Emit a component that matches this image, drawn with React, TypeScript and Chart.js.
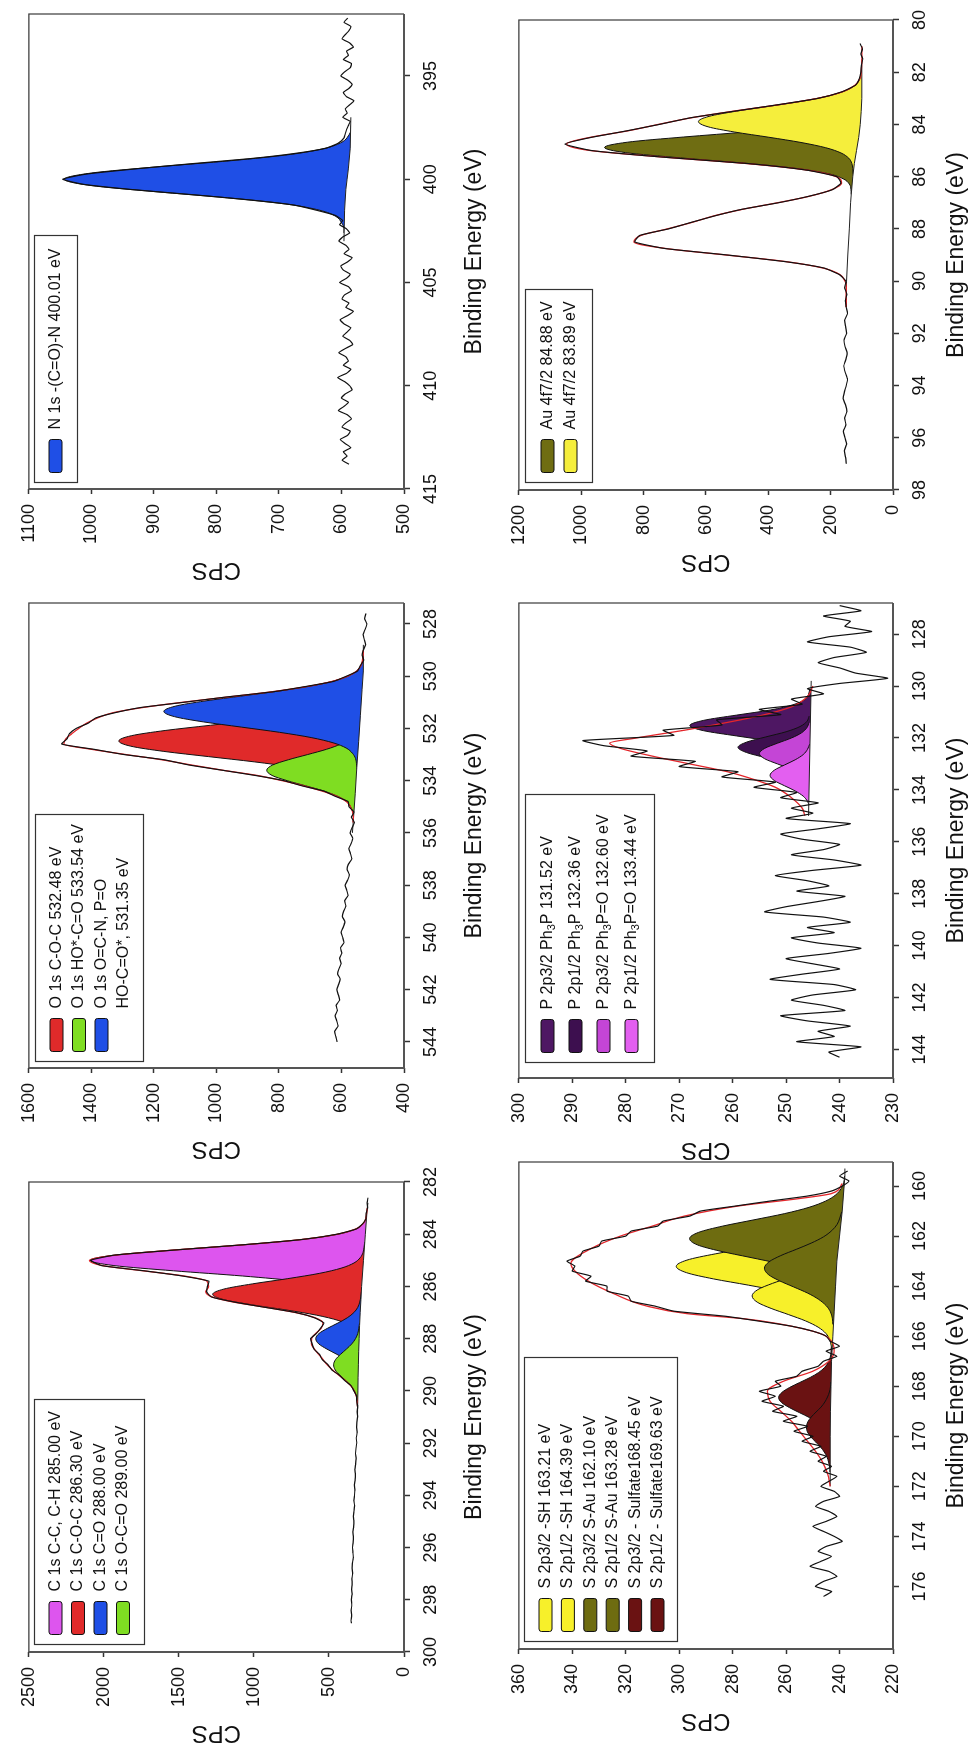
import React, { useEffect, useRef } from "react";
import { Chart, registerables } from "chart.js";

Chart.register(...registerables);

type P2 = [number, number];

// ======================= C 1s =======================
const c1sXTicks = [282, 284, 286, 288, 290, 292, 294, 296, 298, 300];
const c1sYTicks = [0, 500, 1000, 1500, 2000, 2500];
const c1sLabels = ["C 1s C-C, C-H 285.00 eV", "C 1s C-O-C 286.30 eV", "C 1s C=O 288.00 eV", "C 1s O-C=O 289.00 eV"];
const c1sColors = ["#dd55ee", "#e02a2a", "#1f4fe6", "#7fdd22"];
const c1sCC: P2[] = [[283.2,248],[283.4,255],[283.6,273],[283.8,322],[284.0,442],[284.2,680],[284.4,1060],[284.6,1526],[284.8,1928],[285.0,2090],[285.2,1933],[285.4,1536],[285.6,1075],[285.8,700],[286.0,467],[286.2,351],[286.4,306],[286.6,293],[286.8,290]];
const c1sCOC: P2[] = [[284.3,262],[284.5,266],[284.7,273],[284.9,292],[285.1,333],[285.3,419],[285.5,565],[285.7,774],[285.9,1009],[286.1,1200],[286.3,1275],[286.5,1204],[286.7,1017],[286.9,786],[287.1,582],[287.3,439],[287.5,358],[287.7,320],[287.9,305],[288.1,302],[288.3,301]];
const c1sCO: P2[] = [[286.2,284],[286.4,288],[286.6,295],[286.8,308],[287.0,334],[287.2,378],[287.4,440],[287.6,509],[287.8,566],[288.0,588],[288.2,568],[288.4,513],[288.6,447],[288.8,387],[289.0,346],[289.2,323],[289.4,313],[289.6,308],[289.8,307]];
const c1sOCO: P2[] = [[287.4,296],[287.6,301],[287.8,308],[288.0,323],[288.2,348],[288.4,384],[288.6,423],[288.8,456],[289.0,469],[289.2,458],[289.4,427],[289.6,389],[289.8,355],[290.0,331],[290.2,318],[290.4,313],[290.6,309]];
const c1sBase: P2[] = [[282.8,240],[283.0,245],[284.0,257.5],[285.0,270],[286.0,282.5],[286.5,287],[287.0,292],[287.5,296],[288.0,299],[288.5,302],[289.0,304],[289.5,306],[290.0,307],[290.6,309],[291.0,310]];
const c1sEnv: P2[] = [[283.0,245],[283.2,249],[283.4,255],[283.6,273],[283.8,322],[284.0,442],[284.2,680],[284.4,1058],[284.6,1522],[284.8,1920],[285.0,2096],[285.2,2010],[285.4,1740],[285.6,1465],[285.8,1312],[286.0,1302],[286.2,1321],[286.4,1278],[286.6,1135],[286.8,920],[287.0,724],[287.2,591],[287.4,540],[287.6,551],[287.8,589],[288.0,616],[288.2,617],[288.4,596],[288.6,568],[288.8,540],[289.0,511],[289.2,476],[289.4,434],[289.6,391],[289.8,355],[290.0,331],[290.2,318],[290.4,313],[290.6,310]];
const c1sRaw: P2[] = [[282.6,240],[282.8,246],[283.0,243],[283.2,252],[283.4,253],[283.6,276],[283.8,318],[284.0,447],[284.2,676],[284.4,1064],[284.6,1516],[284.8,1930],[285.0,2088],[285.2,2016],[285.4,1732],[285.6,1476],[285.8,1300],[286.0,1310],[286.2,1315],[286.4,1285],[286.6,1128],[286.8,926],[287.0,718],[287.2,596],[287.4,534],[287.6,556],[287.8,584],[288.0,622],[288.2,612],[288.4,600],[288.6,563],[288.8,545],[289.0,506],[289.2,480],[289.4,430],[289.6,395],[289.8,352],[290.0,334],[290.2,316],[290.4,315],[290.6,309],[290.8,312],[291.0,309],[291.2,314],[291.4,316],[291.6,312],[291.8,318],[292.0,315],[292.2,320],[292.4,323],[292.6,319],[292.8,322],[293.0,327],[293.2,324],[293.4,326],[293.6,331],[293.8,327],[294.0,330],[294.2,334],[294.4,329],[294.6,333],[294.8,337],[295.0,334],[295.2,336],[295.4,340],[295.6,337],[295.8,339],[296.0,343],[296.2,340],[296.4,338],[296.6,344],[296.8,346],[297.0,342],[297.2,347],[297.4,345],[297.6,349],[297.8,346],[298.0,351],[298.2,348],[298.4,352],[298.6,349],[298.8,353],[298.9,350]];

// ======================= O 1s =======================
const o1sXTicks = [528, 530, 532, 534, 536, 538, 540, 542, 544];
const o1sYTicks = [400, 600, 800, 1000, 1200, 1400, 1600];
const o1sLabels = ["O 1s C-O-C 532.48 eV", "O 1s HO*-C=O 533.54 eV", "O 1s O=C-N, P=O\nHO-C=O*, 531.35 eV"];
const o1sColors = ["#e02a2a", "#7fdd22", "#1f4fe6"];
const o1sCOC: P2[] = [[530.08,532],[530.28,534],[530.48,538],[530.68,546],[530.88,562],[531.08,595],[531.28,653],[531.48,744],[531.68,871],[531.88,1019],[532.08,1164],[532.28,1272],[532.48,1312],[532.68,1274],[532.88,1168],[533.08,1025],[533.28,879],[533.48,756],[533.68,667],[533.88,611],[534.08,580],[534.28,566],[534.48,560],[534.68,558],[534.88,559]];
const o1sHO: P2[] = [[531.6,540],[531.8,542],[532.0,546],[532.2,555],[532.4,571],[532.6,602],[532.8,648],[533.0,708],[533.2,770],[533.4,820],[533.6,839],[533.8,822],[534.0,774],[534.2,714],[534.4,656],[534.6,612],[534.8,584],[535.0,571],[535.2,564],[535.4,562],[535.6,563]];
const o1sOCN: P2[] = [[529.15,530],[529.35,532],[529.55,536],[529.75,547],[529.95,570],[530.15,614],[530.35,686],[530.55,789],[530.75,913],[530.95,1037],[531.15,1132],[531.35,1168],[531.55,1134],[531.75,1042],[531.95,920],[532.15,798],[532.35,697],[532.55,627],[532.75,585],[532.95,565],[533.15,555],[533.35,552],[533.55,551]];
const o1sBase: P2[] = [[528.8,530],[529.8,530],[530.5,534],[531.5,539.5],[532.5,545],[533.5,551],[534.5,556],[535.6,562.5],[536.0,565]];
const o1sEnv: P2[] = [[529.0,530],[529.2,531],[529.4,533],[529.6,538],[529.8,551],[530.0,579],[530.2,630],[530.4,711],[530.6,825],[530.8,965],[531.0,1109],[531.2,1235],[531.4,1331],[531.6,1380],[531.8,1415],[532.0,1440],[532.2,1462],[532.4,1482],[532.6,1488],[532.8,1400],[533.0,1290],[533.2,1175],[533.4,1080],[533.6,980],[533.8,870],[534.0,790],[534.2,720],[534.4,662],[534.6,614],[534.8,584],[535.0,571],[535.2,564],[535.4,562],[535.6,563]];
const o1sRaw: P2[] = [[527.6,522],[527.8,526],[528.0,519],[528.2,524],[528.4,531],[528.6,527],[528.8,523],[529.0,530],[529.2,534],[529.4,529],[529.6,540],[529.8,548],[530.0,584],[530.2,625],[530.4,716],[530.6,820],[530.8,970],[531.0,1103],[531.2,1242],[531.4,1325],[531.6,1386],[531.8,1410],[532.0,1448],[532.2,1470],[532.4,1478],[532.6,1495],[532.8,1392],[533.0,1296],[533.2,1168],[533.4,1088],[533.6,982],[533.8,876],[534.0,784],[534.2,726],[534.4,656],[534.6,620],[534.8,579],[535.0,576],[535.2,560],[535.4,568],[535.6,559],[535.8,566],[536.0,572],[536.2,564],[536.4,569],[536.6,576],[536.8,571],[537.0,567],[537.2,578],[537.4,582],[537.6,575],[537.8,580],[538.0,588],[538.2,583],[538.4,579],[538.6,590],[538.8,586],[539.0,593],[539.2,597],[539.4,589],[539.6,594],[539.8,601],[540.0,596],[540.2,592],[540.4,603],[540.6,599],[540.8,606],[541.0,601],[541.2,608],[541.4,612],[541.6,604],[541.8,609],[542.0,615],[542.2,610],[542.4,606],[542.6,617],[542.8,613],[543.0,620],[543.2,615],[543.4,611],[543.6,622],[543.8,618],[544.0,614]];

// ======================= N 1s =======================
const n1sXTicks = [395, 400, 405, 410, 415];
const n1sYTicks = [500, 600, 700, 800, 900, 1000, 1100];
const n1sLabels = ["N 1s -(C=O)-N 400.01 eV"];
const n1sColors = ["#1f4fe6"];
const n1sPeak: P2[] = [[397.4,585],[397.6,585],[397.9,589],[398.2,599],[398.5,626],[398.8,682],[399.1,776],[399.4,895],[399.7,1000],[400.0,1043],[400.3,1002],[400.6,899],[400.9,782],[401.2,689],[401.5,635],[401.8,609],[402.1,600],[402.4,596],[402.6,596]];
const n1sBase: P2[] = [[397.0,585],[398.5,586],[399.5,589],[400.0,591],[400.5,593],[401.5,595],[403.0,596]];
const n1sRaw: P2[] = [[392.2,590],[392.4,596],[392.6,585],[392.8,588],[393.0,594],[393.2,599],[393.4,587],[393.6,581],[393.8,592],[394.0,589],[394.2,597],[394.4,584],[394.6,586],[394.8,595],[395.0,601],[395.2,590],[395.4,583],[395.6,588],[395.8,597],[396.0,592],[396.2,580],[396.4,587],[396.6,594],[396.8,591],[397.0,598],[397.2,586],[397.4,589],[397.6,592],[397.8,594],[398.0,596],[398.25,605],[398.5,625],[398.75,674],[399.0,745],[399.25,840],[399.5,930],[399.75,1008],[400.0,1046],[400.25,1012],[400.5,935],[400.75,838],[401.0,748],[401.25,676],[401.5,640],[401.75,610],[402.0,598],[402.2,603],[402.4,592],[402.6,587],[402.8,598],[403.0,604],[403.2,593],[403.4,588],[403.6,596],[403.8,583],[404.0,590],[404.2,601],[404.4,597],[404.6,586],[404.8,592],[405.0,603],[405.2,589],[405.4,584],[405.6,595],[405.8,599],[406.0,588],[406.2,593],[406.4,581],[406.6,590],[406.8,602],[407.0,596],[407.2,585],[407.4,591],[407.6,598],[407.8,587],[408.0,582],[408.2,594],[408.4,604],[408.6,593],[408.8,589],[409.0,597],[409.2,585],[409.4,592],[409.6,606],[409.8,595],[410.0,587],[410.2,583],[410.4,594],[410.6,600],[410.8,589],[411.0,596],[411.2,605],[411.4,591],[411.6,584],[411.8,593],[412.0,599],[412.2,586],[412.4,590],[412.6,602],[412.8,594],[413.0,585],[413.2,597],[413.4,591],[413.6,599],[413.8,588]];

// ======================= S 2p =======================
const s2pXTicks = [160, 162, 164, 166, 168, 170, 172, 174, 176];
const s2pYTicks = [220, 240, 260, 280, 300, 320, 340, 360];
const s2pLabels = ["S 2p3/2 -SH 163.21 eV", "S 2p1/2 -SH 164.39 eV", "S 2p3/2 S-Au 162.10 eV", "S 2p1/2 S-Au 163.28 eV", "S 2p3/2 - Sulfate168.45 eV", "S 2p1/2 - Sulfate169.63 eV"];
const s2pColors = ["#f7f02a", "#f7f02a", "#6e6c10", "#6e6c10", "#6a1212", "#6a1212"];
const s2pSH1: P2[] = [[160.96,239.3],[161.21,240.0],[161.46,241.7],[161.71,244.9],[161.96,251.0],[162.21,260.5],[162.46,273.1],[162.71,286.5],[162.96,297.1],[163.21,301.1],[163.46,297.3],[163.71,287.2],[163.96,274.1],[164.21,261.9],[164.46,252.7],[164.71,247.1],[164.96,244.2],[165.21,242.9],[165.46,242.5]];
const s2pSH2: P2[] = [[162.14,240.2],[162.39,240.8],[162.64,241.7],[162.89,243.6],[163.14,246.8],[163.39,251.7],[163.64,258.2],[163.89,265.1],[164.14,270.6],[164.39,272.7],[164.64,270.8],[164.89,265.6],[165.14,259.0],[165.39,252.7],[165.64,248.0],[165.89,245.1],[166.14,243.7],[166.39,243.1],[166.64,242.9]];
const s2pAu1: P2[] = [[159.6,238.1],[159.85,238.4],[160.1,239.4],[160.35,241.4],[160.6,245.2],[160.85,251.4],[161.1,260.5],[161.35,272.0],[161.6,283.7],[161.85,292.7],[162.1,296.1],[162.35,293.2],[162.6,284.7],[162.85,273.5],[163.1,262.5],[163.35,253.7],[163.6,247.8],[163.85,244.4],[164.1,242.7],[164.35,242.1],[164.6,241.9]];
const s2pAu2: P2[] = [[161.03,239.2],[161.28,239.9],[161.53,240.9],[161.78,242.9],[162.03,246.0],[162.28,250.6],[162.53,256.2],[162.78,262.0],[163.03,266.4],[163.28,268.1],[163.53,266.7],[163.78,262.6],[164.03,257.2],[164.28,251.9],[164.53,247.8],[164.78,245.0],[165.03,243.4],[165.28,242.7],[165.53,242.5]];
const s2pSulf1: P2[] = [[166.45,243.1],[166.65,243.2],[166.85,243.5],[167.05,244.2],[167.25,245.6],[167.45,247.8],[167.65,251.0],[167.85,254.9],[168.05,258.7],[168.25,261.6],[168.45,262.8],[168.65,261.7],[168.85,258.8],[169.05,255.1],[169.25,251.3],[169.45,248.1],[169.65,245.9],[169.85,244.7],[170.05,244.0],[170.25,243.7],[170.45,243.6]];
const s2pSulf2: P2[] = [[167.83,243.3],[168.03,243.4],[168.23,243.8],[168.43,244.5],[168.63,245.5],[168.83,246.9],[169.03,248.8],[169.23,250.6],[169.43,251.9],[169.63,252.4],[169.83,252.0],[170.03,250.7],[170.23,248.9],[170.43,247.1],[170.63,245.7],[170.83,244.7],[171.03,244.1],[171.23,243.7],[171.43,243.6]];
const s2pBase: P2[] = [[159.3,238],[159.6,238],[161,239],[162,240],[163,241],[164,241.5],[165,242],[166,242.5],[167,243],[168,243.2],[169,243.4],[170,243.5],[172,243.5]];
const s2pEnv: P2[] = [[159.9,239],[160.3,243],[160.5,255],[160.8,278],[161.2,298],[161.6,310],[162.0,322],[162.5,333],[163.1,340.5],[163.4,339],[163.8,334],[164.3,324.5],[164.8,312],[165.1,297],[165.3,276],[165.5,263],[165.9,247],[166.2,243],[166.6,242],[167.0,244],[167.4,250],[167.8,261],[168.2,267],[168.6,266],[169.0,262],[169.4,258],[169.8,255],[170.2,252],[170.6,249],[171.0,246.5],[171.5,244.5],[172.0,243.5]];
const s2pRaw: P2[] = [[159.4,237],[159.6,240],[159.8,236.5],[160.0,239],[160.2,243],[160.4,252],[160.6,266],[160.8,279],[161.0,292],[161.2,296],[161.4,306],[161.6,308],[161.8,318],[162.0,320],[162.2,329],[162.4,330],[162.6,336],[162.8,337],[163.0,342],[163.2,339],[163.4,340],[163.6,333],[163.8,335],[164.0,327],[164.2,327],[164.4,319],[164.6,318],[164.8,309],[165.0,302],[165.2,283],[165.4,270],[165.6,258],[165.8,250],[166.0,245],[166.2,243.5],[166.4,240],[166.6,245],[166.8,241],[167.0,246],[167.2,248],[167.4,254],[167.6,256],[167.8,264],[168.0,262],[168.2,270],[168.4,264],[168.6,269],[168.8,261],[169.0,265],[169.2,256],[169.4,261],[169.6,252],[169.8,257],[170.0,250],[170.2,254],[170.4,247],[170.6,251],[170.8,245],[171.0,248],[171.2,243],[171.4,246],[171.6,241],[171.8,244],[172.0,247],[172.2,242],[172.4,240],[172.6,246],[172.8,249],[173.0,244],[173.2,241],[173.4,245],[173.6,250],[173.8,246],[174.0,242],[174.2,239],[174.4,245],[174.6,248],[174.8,243],[175.0,247],[175.2,251],[175.4,244],[175.6,241],[175.8,246],[176.0,249],[176.2,243],[176.4,246]];

// ======================= P 2p =======================
const p2pXTicks = [128, 130, 132, 134, 136, 138, 140, 142, 144];
const p2pYTicks = [230, 240, 250, 260, 270, 280, 290, 300];
const p2pLabels = ["P 2p3/2 Ph_3P 131.52 eV", "P 2p1/2 Ph_3P 132.36 eV", "P 2p3/2 Ph_3P=O 132.60 eV", "P 2p1/2 Ph_3P=O 133.44 eV"];
const p2pColors = ["#4e1763", "#3d0f4f", "#c445d6", "#e35ff0"];
const p2pPh1: P2[] = [[130.12,245.6],[130.32,245.8],[130.52,246.5],[130.72,248.7],[130.92,252.9],[131.12,259.3],[131.32,265.4],[131.52,268],[131.72,265.4],[131.92,259.3],[132.12,252.9],[132.32,248.7],[132.52,246.5],[132.72,245.8],[132.92,245.6]];
const p2pPh2: P2[] = [[131.16,245.7],[131.36,246.1],[131.56,247.4],[131.76,250],[131.96,253.8],[132.16,257.4],[132.36,259],[132.56,257.4],[132.76,253.8],[132.96,250],[133.16,247.4],[133.36,246.1],[133.56,245.7]];
const p2pOx1: P2[] = [[131.4,245.7],[131.6,246.1],[131.8,247.1],[132.0,249],[132.2,251.6],[132.4,254],[132.6,255],[132.8,254],[133.0,251.6],[133.2,249],[133.4,247.1],[133.6,246.1],[133.8,245.7]];
const p2pOx2: P2[] = [[132.24,245.6],[132.44,246],[132.64,246.8],[132.84,248.3],[133.04,250.3],[133.24,252.2],[133.44,253],[133.64,252.2],[133.84,250.3],[134.04,248.3],[134.24,246.8],[134.44,246],[134.64,245.6]];
const p2pBase: P2[] = [[129.8,245.3],[135.0,245.8]];
const p2pEnv: P2[] = [[130.0,245],[130.4,246],[130.8,249],[131.1,254],[131.4,261],[131.7,269],[132.0,278],[132.2,283],[132.4,281],[132.7,275],[133.0,268],[133.3,261],[133.6,256],[133.9,252],[134.3,249],[134.7,247],[135.0,246.5]];
const p2pRaw: P2[] = [[126.9,240],[127.1,236],[127.3,243],[127.5,238],[127.7,239],[127.9,234],[128.1,242],[128.3,246],[128.5,238],[128.7,235],[128.9,241],[129.1,244],[129.3,240],[129.5,237],[129.7,231],[129.9,240],[130.1,246],[130.3,243],[130.5,249],[130.7,247],[130.9,255],[131.1,251],[131.3,263],[131.5,262],[131.7,273],[131.9,271],[132.1,288],[132.3,284],[132.5,276],[132.7,279],[132.9,267],[133.1,270],[133.3,259],[133.5,262],[133.7,252],[133.9,256],[134.1,248],[134.3,251],[134.5,244],[134.7,249],[134.9,245],[135.1,250],[135.3,238],[135.5,244],[135.7,251],[135.9,247],[136.1,240],[136.3,243],[136.5,249],[136.7,241],[136.9,236],[137.1,245],[137.3,252],[137.5,246],[137.7,242],[137.9,248],[138.1,239],[138.3,244],[138.5,250],[138.7,254],[138.9,243],[139.1,238],[139.3,246],[139.5,241],[139.7,249],[139.9,244],[140.1,236],[140.3,242],[140.5,250],[140.7,245],[140.9,240],[141.1,247],[141.3,253],[141.5,241],[141.7,237],[141.9,245],[142.1,249],[142.3,243],[142.5,239],[142.7,251],[142.9,246],[143.1,238],[143.3,244],[143.5,241],[143.7,248],[143.9,236],[144.1,242],[144.3,240]];

// ======================= Au 4f =======================
const au4fXTicks = [80, 82, 84, 86, 88, 90, 92, 94, 96, 98];
const au4fYTicks = [0, 200, 400, 600, 800, 1000, 1200];
const au4fLabels = ["Au 4f7/2 84.88 eV", "Au 4f7/2 83.89 eV"];
const au4fColors = ["#6f6d12", "#f5ee3c"];
const au4fA: P2[] = [[83.08,100.5],[83.28,103],[83.48,111],[83.68,133],[83.88,186],[84.08,293],[84.28,463],[84.48,671],[84.68,852],[84.88,925],[85.08,857],[85.28,682],[85.48,479],[85.68,313],[85.88,210],[86.08,160],[86.28,140],[86.48,135],[86.68,134]];
const au4fB: P2[] = [[81.89,100],[82.09,103],[82.29,108],[82.49,121],[82.69,149],[82.89,201],[83.09,282],[83.29,389],[83.49,502],[83.69,590],[83.89,624],[84.09,593],[84.29,508],[84.49,398],[84.69,295],[84.89,216],[85.09,167],[85.29,142],[85.49,132],[85.69,129],[85.89,128]];
const au4fBase: P2[] = [[81.5,100],[83.0,100],[83.5,102],[84.0,105],[84.5,110],[85.0,117],[85.5,124],[86.0,129],[86.7,134],[87.0,136],[88.0,140],[89.0,145],[90.0,149],[91.0,150]];
const au4fEnv: P2[] = [[81.0,100],[81.5,100],[82.0,102],[82.25,106],[82.5,122],[82.75,162],[83.0,242],[83.25,369],[83.5,517],[83.75,649],[84.0,753],[84.25,853],[84.5,974],[84.75,1047],[85.0,970],[85.25,737],[85.5,467],[85.75,274],[86.0,182],[86.25,165],[86.5,197],[86.75,268],[87.0,371],[87.25,482],[87.5,574],[87.75,644],[88.0,724],[88.25,808],[88.5,831],[88.75,729],[89.0,535],[89.25,345],[89.5,224],[89.75,170],[90.0,154],[90.25,150],[90.5,150],[91.0,150]];
const au4fRaw: P2[] = [[80.9,106],[81.1,98],[81.3,103],[81.5,97],[81.7,101],[82.0,103],[82.25,108],[82.5,121],[82.75,164],[83.0,240],[83.25,372],[83.5,514],[83.75,652],[84.0,750],[84.25,856],[84.5,970],[84.75,1052],[85.0,966],[85.25,740],[85.5,463],[85.75,276],[86.0,180],[86.25,167],[86.5,195],[86.75,270],[87.0,368],[87.25,485],[87.5,571],[87.75,647],[88.0,720],[88.25,812],[88.5,828],[88.75,732],[89.0,531],[89.25,348],[89.5,221],[89.75,172],[90.0,151],[90.25,155],[90.5,148],[90.75,153],[91.0,150],[91.25,146],[91.5,155],[91.75,152],[92.0,149],[92.25,157],[92.5,154],[92.75,147],[93.0,151],[93.25,158],[93.5,153],[93.75,146],[94.0,150],[94.25,156],[94.5,160],[94.75,152],[95.0,148],[95.25,155],[95.5,151],[95.75,159],[96.0,154],[96.25,149],[96.5,156],[96.75,152],[97.0,150]];

// ======================= layout (unrotated figure 1746 x 979) =======================
const FIG_W = 1746;
const FIG_H = 979;
const LM = 100; // width reserved for the CPS axis
const BM = 95; // height reserved for the energy axis
const TP = 12;
const RP = 20;
const SANS = '"Liberation Sans", Arial, Helvetica, sans-serif';
const NARROW = '"Liberation Sans Narrow", "Liberation Sans", Arial, sans-serif';

type LegendBox = { dx: number; dy: number; w: number; h: number; gap: number; first: number };
type PanelDef = {
  key: string;
  row: number;
  plot: [number, number, number, number];
  xRange: [number, number];
  yRange: [number, number];
  xTicks: number[];
  yTicks: number[];
  comps: P2[][];
  labels: string[];
  colors: string[];
  base: P2[];
  env: P2[] | null;
  raw: P2[];
  legend: LegendBox;
};

const PANELS: PanelDef[] = [
  { key: "c1s", row: 0, plot: [94, 20, 470, 384], xRange: [282, 300], yRange: [0, 2500], xTicks: c1sXTicks, yTicks: c1sYTicks,
    comps: [c1sCC, c1sCOC, c1sCO, c1sOCO], labels: c1sLabels, colors: c1sColors, base: c1sBase, env: c1sEnv, raw: c1sRaw,
    legend: { dx: 7, dy: 5, w: 245, h: 110, gap: 22.5, first: 21 } },
  { key: "o1s", row: 0, plot: [678, 20, 465, 384], xRange: [527.2, 545], yRange: [400, 1600], xTicks: o1sXTicks, yTicks: o1sYTicks,
    comps: [o1sCOC, o1sHO, o1sOCN], labels: o1sLabels, colors: o1sColors, base: o1sBase, env: o1sEnv, raw: o1sRaw,
    legend: { dx: 6, dy: 6, w: 247, h: 108, gap: 22.5, first: 21 } },
  { key: "n1s", row: 0, plot: [1257, 20, 475, 384], xRange: [392, 415], yRange: [500, 1100], xTicks: n1sXTicks, yTicks: n1sYTicks,
    comps: [n1sPeak], labels: n1sLabels, colors: n1sColors, base: n1sBase, env: null, raw: n1sRaw,
    legend: { dx: 6, dy: 5, w: 247, h: 43, gap: 22.5, first: 21 } },
  { key: "s2p", row: 1, plot: [97, 510, 487, 383], xRange: [159.04, 178.5], yRange: [220, 360], xTicks: s2pXTicks, yTicks: s2pYTicks,
    comps: [s2pSH1, s2pSH2, s2pAu1, s2pAu2, s2pSulf1, s2pSulf2], labels: s2pLabels, colors: s2pColors, base: s2pBase, env: s2pEnv, raw: s2pRaw,
    legend: { dx: 7, dy: 5, w: 284, h: 153, gap: 22.4, first: 21 } },
  { key: "p2p", row: 1, plot: [668, 510, 475, 383], xRange: [126.8, 145.1], yRange: [230, 300], xTicks: p2pXTicks, yTicks: p2pYTicks,
    comps: [p2pPh1, p2pPh2, p2pOx1, p2pOx2], labels: p2pLabels, colors: p2pColors, base: p2pBase, env: p2pEnv, raw: p2pRaw,
    legend: { dx: 15, dy: 6, w: 268, h: 129, gap: 28, first: 22 } },
  { key: "au4f", row: 1, plot: [1256, 510, 470, 383], xRange: [80, 98], yRange: [0, 1200], xTicks: au4fXTicks, yTicks: au4fYTicks,
    comps: [au4fA, au4fB], labels: au4fLabels, colors: au4fColors, base: au4fBase, env: au4fEnv, raw: au4fRaw,
    legend: { dx: 7, dy: 6, w: 193, h: 67, gap: 23, first: 22 } },
];

const LEG_FONT = `16px ${SANS}`;
const SUB_FONT = `11px ${SANS}`;

function drawRich(ctx: CanvasRenderingContext2D, text: string, x: number, y: number) {
  const parts = text.split(/_(\d)/);
  let cx = x;
  parts.forEach((p, i) => {
    if (i % 2 === 1) {
      ctx.font = SUB_FONT;
      ctx.fillText(p, cx, y + 4);
      cx += ctx.measureText(p).width;
      ctx.font = LEG_FONT;
    } else {
      ctx.fillText(p, cx, y);
      cx += ctx.measureText(p).width;
    }
  });
}

function makeLegendPlugin(def: PanelDef) {
  return {
    id: "boxLegend_" + def.key,
    afterDatasetsDraw(chart: any) {
      const { ctx, chartArea } = chart;
      const L = def.legend;
      const x0 = Math.round(chartArea.left + L.dx) + 0.5;
      const y0 = Math.round(chartArea.top + L.dy) + 0.5;
      ctx.save();
      ctx.fillStyle = "#fff";
      ctx.fillRect(x0, y0, L.w, L.h);
      ctx.strokeStyle = "#333";
      ctx.lineWidth = 1.2;
      ctx.strokeRect(x0, y0, L.w, L.h);
      ctx.font = LEG_FONT;
      ctx.textBaseline = "middle";
      ctx.textAlign = "left";
      let cy = y0 + L.first;
      def.labels.forEach((lab, i) => {
        ctx.fillStyle = def.colors[i];
        ctx.beginPath();
        if ((ctx as any).roundRect) (ctx as any).roundRect(x0 + 10, cy - 6.5, 33, 13, 2.5);
        else ctx.rect(x0 + 10, cy - 6.5, 33, 13);
        ctx.fill();
        ctx.strokeStyle = "#111";
        ctx.lineWidth = 1;
        ctx.stroke();
        ctx.fillStyle = "#111";
        lab.split("\n").forEach((ln) => {
          drawRich(ctx, ln, x0 + 53, cy);
          cy += L.gap;
        });
      });
      ctx.restore();
    },
  };
}

const framePlugin = {
  id: "plotFrame",
  afterDatasetsDraw(chart: any) {
    const { ctx, chartArea } = chart;
    const { left, top, right, bottom } = chartArea;
    ctx.save();
    ctx.strokeStyle = "#3a3a3a";
    ctx.lineWidth = 1.2;
    ctx.beginPath();
    ctx.moveTo(left, top);
    ctx.lineTo(right, top);
    ctx.lineTo(right, bottom);
    ctx.stroke();
    ctx.strokeStyle = "#555";
    ctx.lineWidth = 2;
    ctx.beginPath();
    ctx.moveTo(left, top);
    ctx.lineTo(left, bottom);
    ctx.lineTo(right, bottom);
    ctx.stroke();
    ctx.restore();
  },
};

function toXY(pts: P2[]) {
  return pts.map(([x, y]) => ({ x, y }));
}

function buildConfig(def: PanelDef): any {
  const datasets: any[] = [];
  datasets.push({ data: toXY(def.raw), borderColor: "#111", borderWidth: 1.2, pointRadius: 0, fill: false, tension: 0.15 });
  if (def.env) {
    datasets.push({ data: toXY(def.env), borderColor: "#e3262b", borderWidth: 1.3, pointRadius: 0, fill: false, cubicInterpolationMode: "monotone" });
  }
  datasets.push({ data: toXY(def.base), borderColor: "#222", borderWidth: 1, backgroundColor: "#ffffff", pointRadius: 0, fill: "start", tension: 0 });
  for (let i = def.comps.length - 1; i >= 0; i--) {
    datasets.push({
      data: toXY(def.comps[i]),
      borderColor: "#111",
      borderWidth: 1,
      backgroundColor: def.colors[i],
      pointRadius: 0,
      fill: "start",
      cubicInterpolationMode: "monotone",
    });
  }
  const cpsOffset = def.row === 0 ? 81 : 72;
  const beOffset = def.row === 0 ? 71 : 64;
  const tickFont = { family: NARROW, size: 18 };
  return {
    type: "line",
    data: { datasets },
    options: {
      responsive: false,
      animation: false,
      devicePixelRatio: 1,
      events: [],
      layout: { padding: { left: 0, right: RP, top: TP, bottom: 0 } },
      plugins: { legend: { display: false }, tooltip: { enabled: false }, title: { display: false } },
      scales: {
        x: {
          type: "linear",
          reverse: true,
          min: def.xRange[0],
          max: def.xRange[1],
          afterBuildTicks: (s: any) => {
            s.ticks = def.xTicks.map((v) => ({ value: v }));
          },
          afterFit: (s: any) => {
            s.height = BM;
          },
          grid: { display: true, drawOnChartArea: false, drawTicks: true, tickLength: 6, color: "#333", tickColor: "#333", tickWidth: 1.5 },
          border: { display: false },
          ticks: { autoSkip: false, maxRotation: 0, minRotation: 0, padding: 10, color: "#111", font: tickFont, callback: (v: any) => String(v) },
          title: { display: true, text: "Binding Energy (eV)", color: "#111", font: { family: SANS, size: 23 }, padding: { top: 0, bottom: BM - beOffset - 13.8 } },
        },
        y: {
          type: "linear",
          min: def.yRange[0],
          max: def.yRange[1],
          afterBuildTicks: (s: any) => {
            s.ticks = def.yTicks.map((v) => ({ value: v }));
          },
          afterFit: (s: any) => {
            s.width = LM;
          },
          grid: { display: true, drawOnChartArea: false, drawTicks: true, tickLength: 5, color: "#333", tickColor: "#333", tickWidth: 1.5 },
          border: { display: false },
          ticks: { autoSkip: false, padding: 10, color: "#111", font: tickFont, callback: (v: any) => String(v) },
          title: { display: true, text: "CPS", color: "#111", font: { family: SANS, size: 24 }, padding: { top: LM - cpsOffset - 14.4, bottom: 0 } },
        },
      },
    },
    plugins: [framePlugin, makeLegendPlugin(def)],
  };
}

function Panel({ def }: { def: PanelDef }) {
  const ref = useRef<HTMLCanvasElement | null>(null);
  const [l, t, w, h] = def.plot;
  const cw = w + LM + RP;
  const ch = h + TP + BM;
  useEffect(() => {
    if (!ref.current) return;
    const chart = new Chart(ref.current, buildConfig(def));
    return () => chart.destroy();
  }, [def]);
  return (
    <div style={{ position: "absolute", left: l - LM, top: t - TP, width: cw, height: ch }}>
      <canvas ref={ref} width={cw} height={ch} style={{ display: "block", width: cw, height: ch }} />
    </div>
  );
}

export default function App() {
  return (
    <div style={{ position: "absolute", left: 0, top: 0, width: FIG_H, height: FIG_W, overflow: "hidden", background: "#fff" }}>
      <div
        style={{
          position: "absolute",
          left: 0,
          top: 0,
          width: FIG_W,
          height: FIG_H,
          transformOrigin: "0 0",
          transform: `translateY(${FIG_W}px) rotate(-90deg)`,
          background: "#fff",
        }}
      >
        {PANELS.map((p) => (
          <Panel key={p.key} def={p} />
        ))}
      </div>
    </div>
  );
}
